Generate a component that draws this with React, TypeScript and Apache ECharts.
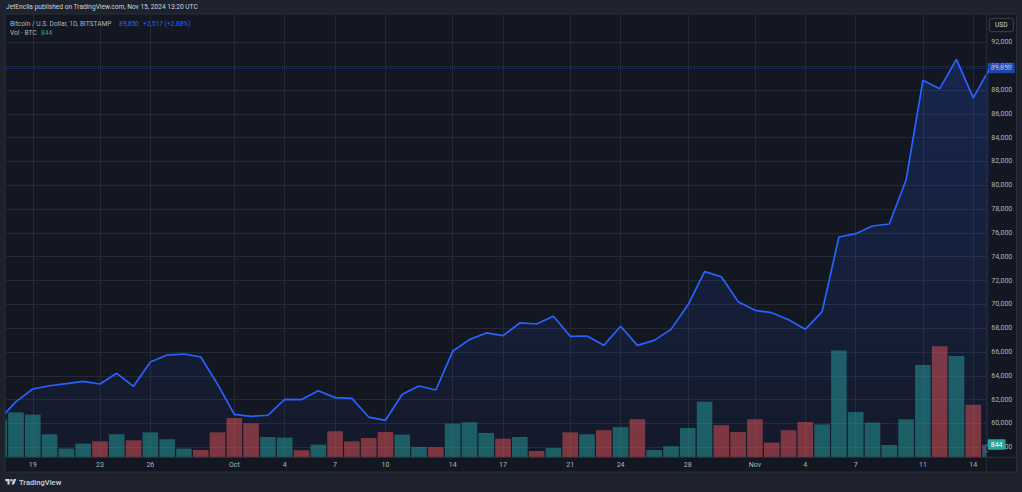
import React, { useEffect, useRef } from 'react';
import * as echarts from 'echarts';

// ---- data ----
const dayLabels = [
  'Sep 17', 'Sep 18', 'Sep 19', 'Sep 20', 'Sep 21', 'Sep 22', 'Sep 23', 'Sep 24', 'Sep 25', 'Sep 26',
  'Sep 27', 'Sep 28', 'Sep 29', 'Sep 30', 'Oct 1', 'Oct 2', 'Oct 3', 'Oct 4', 'Oct 5', 'Oct 6',
  'Oct 7', 'Oct 8', 'Oct 9', 'Oct 10', 'Oct 11', 'Oct 12', 'Oct 13', 'Oct 14', 'Oct 15', 'Oct 16',
  'Oct 17', 'Oct 18', 'Oct 19', 'Oct 20', 'Oct 21', 'Oct 22', 'Oct 23', 'Oct 24', 'Oct 25', 'Oct 26',
  'Oct 27', 'Oct 28', 'Oct 29', 'Oct 30', 'Oct 31', 'Nov 1', 'Nov 2', 'Nov 3', 'Nov 4', 'Nov 5',
  'Nov 6', 'Nov 7', 'Nov 8', 'Nov 9', 'Nov 10', 'Nov 11', 'Nov 12', 'Nov 13', 'Nov 14', 'Nov 15',
];

const closePrices = [
  60300, 61830, 62895, 63170, 63340, 63540, 63315, 64210, 63120, 65160,
  65750, 65830, 65580, 63300, 60770, 60600, 60690, 62030, 62010, 62750,
  62170, 62110, 60540, 60265, 62450, 63150, 62810, 66060, 67040, 67600,
  67370, 68440, 68350, 69000, 67320, 67345, 66560, 68160, 66560, 66980,
  67900, 69920, 72745, 72320, 70230, 69500, 69300, 68715, 67905, 69390,
  75660, 75935, 76580, 76750, 80440, 88810, 88110, 90575, 87333, 89850,
];

const volumesBtc = [
  2510, 2990, 2840, 1530, 580, 910, 1060, 1530, 1130, 1660,
  1200, 580, 490, 1660, 2610, 2260, 1350, 1310, 470, 840,
  1730, 1060, 1280, 1680, 1510, 690, 670, 2240, 2330, 1620,
  1240, 1350, 420, 620, 1660, 1530, 1800, 2010, 2530, 490,
  730, 1950, 3700, 2130, 1680, 2530, 980, 1800, 2350, 2190,
  7100, 3010, 2310, 820, 2530, 6140, 7380, 6740, 3500, 844,
];

// 1 = up day (teal), 0 = down day (red)
const volumeUp = [
  1, 1, 1, 1, 1, 1, 0, 1, 0, 1,
  1, 1, 0, 0, 0, 0, 1, 1, 0, 1,
  0, 0, 0, 0, 1, 1, 0, 1, 1, 1,
  0, 1, 0, 1, 0, 1, 0, 1, 0, 1,
  1, 1, 1, 0, 0, 0, 0, 0, 0, 1,
  1, 1, 1, 1, 1, 1, 0, 1, 0, 1,
];

const timeTickIndex = [2, 6, 9, 14, 17, 20, 23, 27, 30, 34, 37, 41, 45, 48, 51, 55, 58];
const timeTickLabels = ['19', '23', '26', 'Oct', '4', '7', '10', '14', '17', '21', '24', '28', 'Nov', '4', '7', '11', '14'];

const priceTicks = [
  58000, 60000, 62000, 64000, 66000, 68000, 70000, 72000, 74000,
  76000, 78000, 80000, 82000, 84000, 86000, 88000, 90000, 92000,
];

// ---- logo ----
const TV_LOGO = 'M14 22H7V11H0V4h14v18zM28 22h-8l7.5-18h8L28 22zM24 8a4 4 0 1 1-8 0a4 4 0 1 1 8 0z';
echarts.graphic.registerShape('tvlogo', echarts.graphic.extendPath(TV_LOGO, {}));

const FONT = 'Roboto, "Noto Sans", sans-serif';
const BG = '#131722';
const OUTER = '#1e222d';
const BORDER = '#2a2e39';
const GRID = '#252935';
const UP = 'rgba(38,166,154,0.5)';
const DOWN = 'rgba(239,83,80,0.5)';
const BLUE = '#2962ff';

const X_MIN = 0.405;
const X_MAX = 58.8;
const P_MIN = 57160;
const P_MAX = 94296;
const V_MAX = 29413;

const fmt = (v: number) => v.toLocaleString('en-US');

function buildOption() {
  const last = closePrices[closePrices.length - 1];
  const prev = closePrices[closePrices.length - 2];
  const chg = last - prev;
  const pct = (chg / prev) * 100;
  const lastIdx = volumesBtc.length - 1;
  const lastVol = volumesBtc[lastIdx];

  const labelMap: Record<number, string> = {};
  timeTickIndex.forEach((t, i) => (labelMap[t] = timeTickLabels[i]));

  const txt = (x: number, y: number, text: string, fill: string, size = 6.6, extra: any = {}) => ({
    type: 'text',
    x,
    y,
    z: 10,
    style: { text, fill, fontSize: size, fontFamily: FONT, verticalAlign: 'middle', align: 'left', ...extra },
  });

  const tagLabel = (text: string, bg: string) => ({
    show: true,
    position: 'end',
    distance: 1,
    formatter: text,
    color: '#ffffff',
    backgroundColor: bg,
    fontSize: 7,
    fontFamily: FONT,
    padding: [2, 3, 1.5, 3],
    borderRadius: 1,
  });

  const axisText = { color: '#b2b5be', fontSize: 7, fontFamily: FONT };

  return {
    animation: false,
    backgroundColor: BG,
    textStyle: { fontFamily: FONT },
    grid: { left: 6, right: 35.3, top: 15, bottom: 34.7, containLabel: false },
    xAxis: [
      {
        // data + labels
        type: 'value',
        min: X_MIN,
        max: X_MAX,
        z: 2.2,
        axisLine: { show: false },
        axisTick: { show: false, customValues: timeTickIndex },
        axisLabel: {
          ...axisText,
          customValues: timeTickIndex,
          formatter: (v: number) => labelMap[Math.round(v)] ?? '',
          margin: 4,
        },
        splitLine: { show: false },
      },
      {
        // vertical grid lines only
        type: 'value',
        min: X_MIN,
        max: X_MAX,
        z: 0,
        axisLine: { show: false },
        axisTick: { show: false, customValues: timeTickIndex },
        axisLabel: { show: false, customValues: timeTickIndex },
        splitLine: { show: true, lineStyle: { color: GRID, width: 1 } },
      },
    ],
    yAxis: [
      {
        // price scale labels
        type: 'value',
        position: 'right',
        min: P_MIN,
        max: P_MAX,
        z: 2.2,
        axisLine: { show: false },
        axisTick: { show: false, customValues: priceTicks },
        axisLabel: { ...axisText, customValues: priceTicks, formatter: (v: number) => fmt(v), margin: 4.5 },
        splitLine: { show: false },
      },
      {
        // volume scale (hidden)
        type: 'value',
        min: 0,
        max: V_MAX,
        show: false,
        splitLine: { show: false },
      },
      {
        // horizontal grid lines only
        type: 'value',
        position: 'right',
        min: P_MIN,
        max: P_MAX,
        z: 0,
        axisLine: { show: false },
        axisTick: { show: false, customValues: priceTicks },
        axisLabel: { show: false, customValues: priceTicks },
        splitLine: { show: true, lineStyle: { color: GRID, width: 1 } },
      },
    ],
    series: [
      {
        type: 'bar',
        name: 'Vol',
        xAxisIndex: 0,
        yAxisIndex: 1,
        z: 1,
        barWidth: 15.6,
        clip: true,
        data: volumesBtc.map((v, i) => ({
          value: [i, v],
          name: dayLabels[i],
          itemStyle: { color: volumeUp[i] ? UP : DOWN },
        })),
      },
      {
        type: 'line',
        name: 'BTCUSD',
        xAxisIndex: 0,
        yAxisIndex: 0,
        z: 2,
        symbol: 'none',
        showSymbol: false,
        clip: true,
        data: closePrices.map((v, i) => [i, v]),
        lineStyle: { color: BLUE, width: 1.7 },
        itemStyle: { color: BLUE },
        areaStyle: {
          color: new echarts.graphic.LinearGradient(0, 0, 0, 1, [
            { offset: 0, color: 'rgba(41,98,255,0.28)' },
            { offset: 1, color: 'rgba(41,98,255,0.05)' },
          ]),
        },
      },
      {
        // last-price line and tag
        type: 'line',
        name: 'Price tag',
        xAxisIndex: 0,
        yAxisIndex: 0,
        z: 3,
        symbol: 'none',
        showSymbol: false,
        lineStyle: { width: 0, color: 'transparent' },
        data: [[lastIdx, last]],
        markLine: {
          silent: true,
          symbol: 'none',
          lineStyle: { color: BLUE, type: [1, 3], width: 1, opacity: 0.6 },
          label: tagLabel(fmt(last), BLUE),
          data: [{ yAxis: last }],
        },
      },
      {
        // last-volume tag on the volume scale
        type: 'line',
        name: 'Vol tag',
        xAxisIndex: 0,
        yAxisIndex: 1,
        z: 3,
        symbol: 'none',
        showSymbol: false,
        lineStyle: { width: 0, color: 'transparent' },
        data: [[lastIdx, lastVol]],
        markLine: {
          silent: true,
          symbol: 'none',
          lineStyle: { width: 0, color: 'transparent' },
          label: tagLabel(fmt(lastVol), '#26a69a'),
          data: [{ yAxis: lastVol }],
        },
      },
    ],
    graphic: [
      // outer frame strips and price-scale cover (above bars, below axes/line)
      { type: 'rect', z: 1.5, shape: { x: 0, y: 0, width: 1022, height: 14 }, style: { fill: OUTER } },
      { type: 'rect', z: 1.5, shape: { x: 0, y: 472, width: 1022, height: 20 }, style: { fill: OUTER } },
      { type: 'rect', z: 1.5, shape: { x: 0, y: 0, width: 5, height: 492 }, style: { fill: OUTER } },
      { type: 'rect', z: 1.5, shape: { x: 1016.5, y: 0, width: 5.5, height: 492 }, style: { fill: OUTER } },
      { type: 'rect', z: 1.5, shape: { x: 987, y: 14.5, width: 29.5, height: 442.5 }, style: { fill: BG } },
      {
        type: 'rect',
        z: 2.5,
        shape: { x: 5, y: 14, width: 1011.5, height: 458 },
        style: { fill: 'none', stroke: BORDER, lineWidth: 1 },
      },
      // pane separators
      { type: 'line', z: 2.5, shape: { x1: 986.7, y1: 14, x2: 986.7, y2: 472 }, style: { stroke: BORDER, lineWidth: 1 } },
      { type: 'line', z: 2.5, shape: { x1: 5, y1: 457.3, x2: 1016.5, y2: 457.3 }, style: { stroke: BORDER, lineWidth: 1 } },
      // small event marker at the right edge
      {
        type: 'arc',
        z: 2.6,
        shape: { cx: 988.5, cy: 448.5, r: 3.6, startAngle: Math.PI * 0.55, endAngle: Math.PI * 1.45 },
        style: { stroke: '#9c27b0', lineWidth: 1.2, fill: 'none' },
      },
      // USD box
      {
        type: 'rect',
        z: 4,
        shape: { x: 989.3, y: 18.3, width: 24, height: 13.4, r: 2 },
        style: { fill: BG, stroke: '#434651', lineWidth: 1 },
      },
      txt(1001.3, 25.2, 'USD', '#d1d4dc', 6.6, { align: 'center' }),
      // header
      txt(6, 7.3, 'JetEncila published on TradingView.com, Nov 15, 2024 13:20 UTC', '#d1d4dc', 6.6),
      // legend
      txt(10, 23.7, 'Bitcoin / U.S. Dollar, 1D, BITSTAMP', '#b2b5be', 6.6),
      txt(119, 23.7, fmt(last), BLUE, 6.6),
      txt(143, 23.7, `${chg >= 0 ? '+' : ''}${fmt(chg)} (${chg >= 0 ? '+' : ''}${pct.toFixed(2)}%)`, BLUE, 6.6),
      txt(10, 33, 'Vol · BTC', '#b2b5be', 6.6),
      txt(41, 33, fmt(lastVol), '#22ab94', 6.6),
      // TradingView logo
      {
        type: 'tvlogo',
        z: 10,
        x: 5.3,
        y: 477.8,
        scaleX: 0.31,
        scaleY: 0.31,
        style: { fill: '#d1d4dc' },
      },
      txt(19, 482.7, 'TradingView', '#d1d4dc', 7.6, { fontWeight: 500 }),
    ],
  };
}

export default function App() {
  const ref = useRef<HTMLDivElement>(null);
  useEffect(() => {
    document.body.style.margin = '0';
    const chart = echarts.init(ref.current as HTMLDivElement, undefined, { renderer: 'svg' });
    chart.setOption(buildOption() as any);
    return () => {
      chart.dispose();
    };
  }, []);
  return <div ref={ref} style={{ width: 1022, height: 492 }} />;
}
